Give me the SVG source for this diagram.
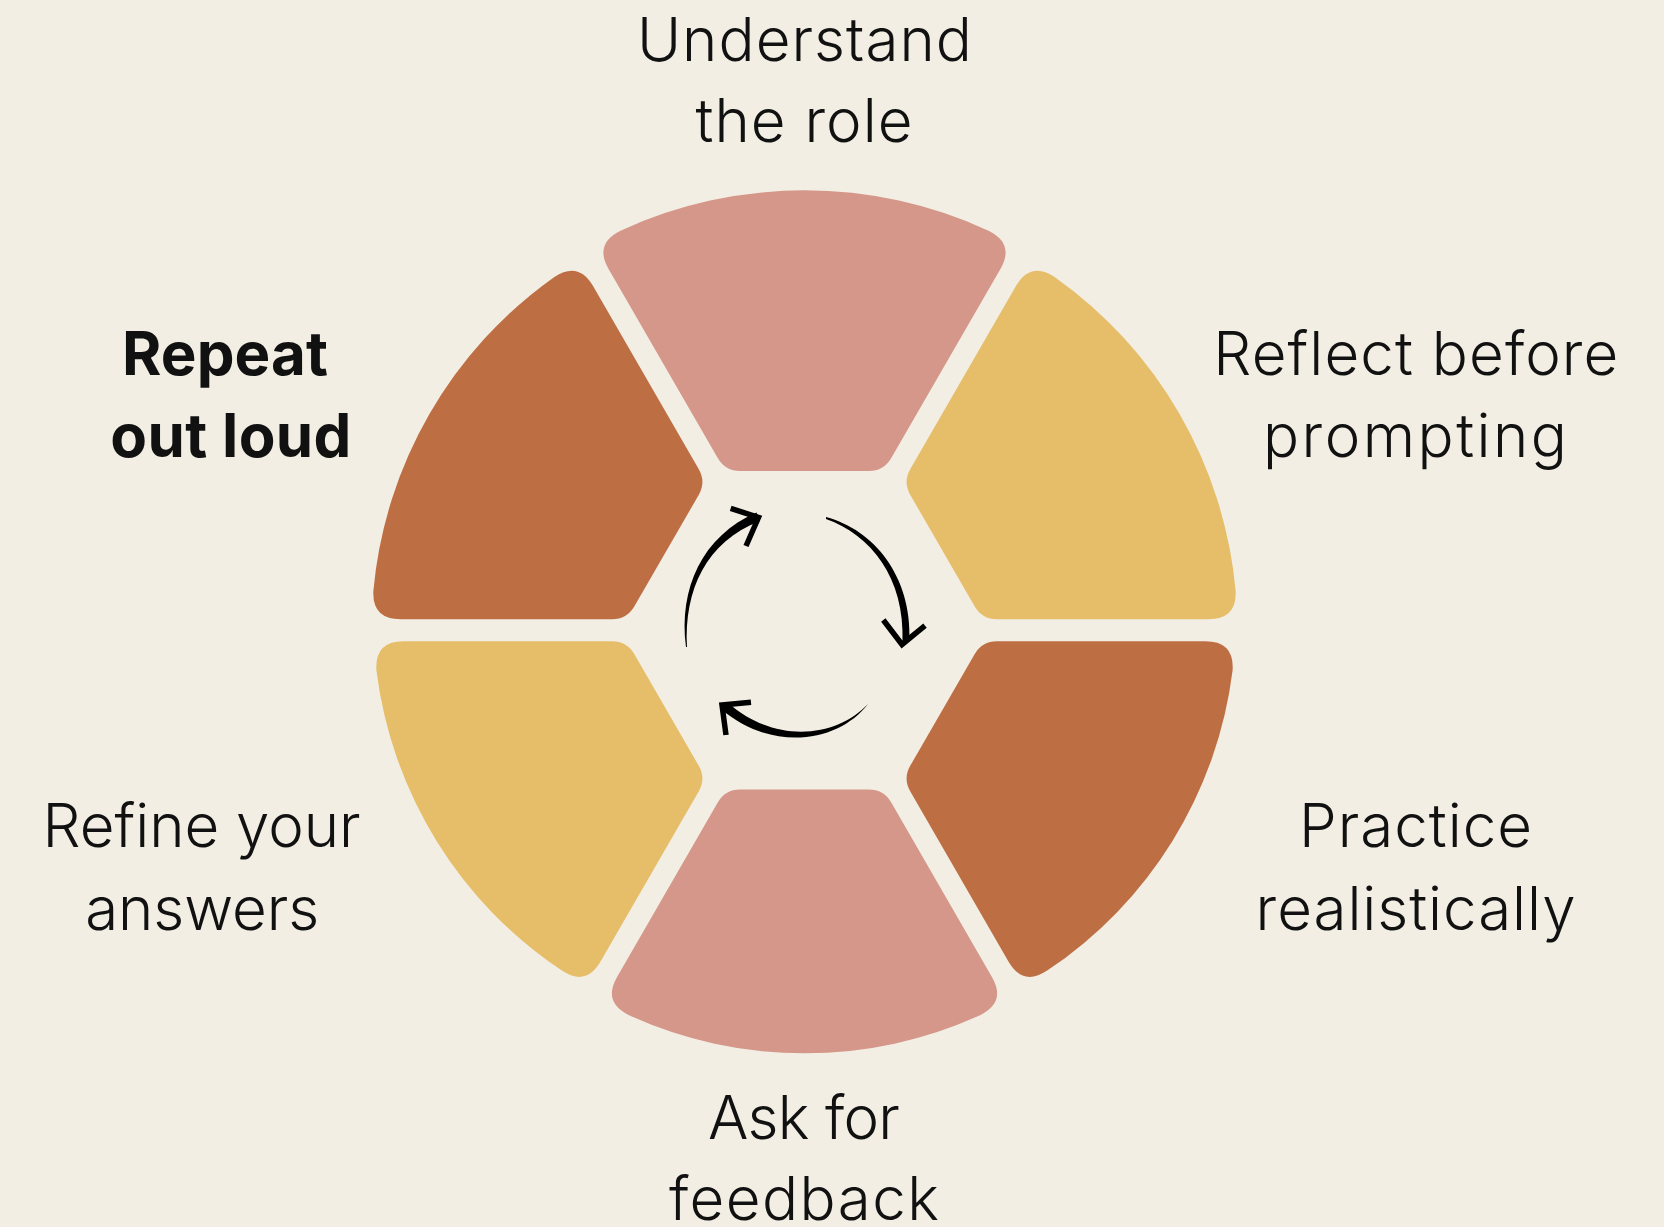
<svg xmlns="http://www.w3.org/2000/svg" xmlns:xlink="http://www.w3.org/1999/xlink" width="1664" height="1227" viewBox="0 0 1664 1227">
  <style>
    .pink { fill: #D59789; }
    .brown { fill: #BE6E43; }
    .yellow { fill: #E6BE69; }
    .lbl { font-family: Inter, "Open Sans", "Noto Sans", sans-serif; font-weight: 300; font-size: 60px; fill: #111111; text-anchor: middle; }
    .bold { font-weight: 700; }
    .body { fill: #000000; }
    .head { fill: none; stroke: #000000; stroke-width: 5.5; stroke-linejoin: miter; stroke-linecap: butt; }
  </style>
  <defs>
    <path id="seg-side" d="M-64.27,159.3 L64.27,159.3 Q79.27,159.3 86.77,172.29 L192.42,355.26 Q206.92,380.37 181.0,393.3 A433,433 0 0 1 -181.0,393.3 Q-206.92,380.37 -192.42,355.26 L-86.77,172.29 Q-79.27,159.3 -64.27,159.3 Z"/>
    <path id="seg-lower" d="M-64.27,159.3 L64.27,159.3 Q79.27,159.3 86.77,172.29 L190.92,352.65 Q205.42,377.76 179.5,390.7 A424,424 0 0 1 -173.4,380.3 Q-199.42,367.37 -184.92,342.26 L-86.77,172.29 Q-79.27,159.3 -64.27,159.3 Z"/>
    <path id="seg-top" d="M-64.27,159.3 L64.27,159.3 Q79.27,159.3 86.77,172.29 L195.92,361.32 Q210.42,386.43 184.5,399.4 A440,440 0 0 1 -184.5,399.4 Q-210.42,386.43 -195.92,361.32 L-86.77,172.29 Q-79.27,159.3 -64.27,159.3 Z"/>
    <path id="seg-bottom" d="M-64.27,159.3 L64.27,159.3 Q79.27,159.3 86.77,172.29 L187.42,346.59 Q201.92,371.70 176.0,384.7 A423,423 0 0 1 -176.0,384.7 Q-201.92,371.70 -187.42,346.59 L-86.77,172.29 Q-79.27,159.3 -64.27,159.3 Z"/>
  </defs>
  <rect width="1664" height="1227" fill="#F2EEE3"/>

  <g id="node-understand">
    <use xlink:href="#seg-top" href="#seg-top" class="pink" transform="translate(804.5,630.3) rotate(180)"/>
    <text class="lbl" x="804.4" y="60.5" textLength="335" lengthAdjust="spacing">Understand</text>
    <text class="lbl" x="804" y="142.2" textLength="217" lengthAdjust="spacing">the role</text>
  </g>

  <g id="node-reflect">
    <use xlink:href="#seg-side" href="#seg-side" class="yellow" transform="translate(804.5,630.3) rotate(240)"/>
    <text class="lbl" x="1415.8" y="374.6" textLength="405" lengthAdjust="spacing">Reflect before</text>
    <text class="lbl" x="1415" y="457.4" textLength="304" lengthAdjust="spacing">prompting</text>
  </g>

  <g id="node-practice">
    <use xlink:href="#seg-lower" href="#seg-lower" class="brown" transform="translate(804.5,630.3) rotate(-60)"/>
    <text class="lbl" x="1415.6" y="846.9" textLength="233" lengthAdjust="spacing">Practice</text>
    <text class="lbl" x="1415.6" y="929.6" textLength="320" lengthAdjust="spacing">realistically</text>
  </g>

  <g id="node-feedback">
    <use xlink:href="#seg-bottom" href="#seg-bottom" class="pink" transform="translate(804.5,630.3)"/>
    <text class="lbl" x="803.9" y="1138.7" textLength="192" lengthAdjust="spacing">Ask for</text>
    <text class="lbl" x="803.9" y="1220.4" textLength="270" lengthAdjust="spacing">feedback</text>
  </g>

  <g id="node-refine">
    <use xlink:href="#seg-lower" href="#seg-lower" class="yellow" transform="translate(804.5,630.3) scale(-1,1) rotate(-60)"/>
    <text class="lbl" x="201.6" y="846.9" textLength="318" lengthAdjust="spacing">Refine your</text>
    <text class="lbl" x="202.2" y="929.6" textLength="234" lengthAdjust="spacing">answers</text>
  </g>

  <g id="node-repeat">
    <use xlink:href="#seg-side" href="#seg-side" class="brown" transform="translate(804.5,630.3) rotate(120)"/>
    <text class="lbl bold" x="225" y="374.6" textLength="206" lengthAdjust="spacing">Repeat</text>
    <text class="lbl bold" x="230.8" y="457.4" textLength="241" lengthAdjust="spacing">out loud</text>
  </g>

  <g id="connectors">
    <path class="body" d="M686,647 C678.5,588 702.5,536 756.5,512.5 L760,521 C706,542 684,590 687,647 Z"/>
    <path class="head" d="M730.7,508.3 L758.5,517.5 L746,546"/>
    <path class="body" d="M826,517 C874,530 912,576 909.5,641 L902.5,642 C905,578 871,535 826,519 Z"/>
    <path class="head" d="M883.3,620 L902,644.5 L925,625.7"/>
    <path class="body" d="M868,704 C840,741 774,754 721,709 L728,703 C778,746 838,736 868,704 Z"/>
    <path class="head" d="M751,702.3 L722,705 L726,735"/>
  </g>
</svg>
